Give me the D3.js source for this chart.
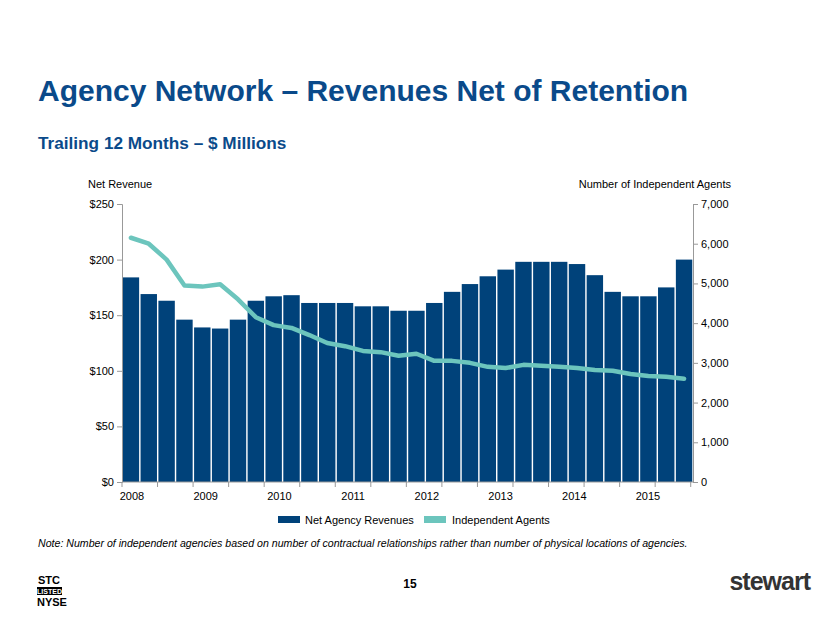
<!DOCTYPE html><html><head><meta charset="utf-8"><script src="https://cdn.jsdelivr.net/npm/d3@7"></script>
<style>body{margin:0;background:#fff;font-family:Arial,"Liberation Sans",sans-serif}</style></head><body><svg id="c" width="820" height="627"></svg>
<script>
const revenue=[184,169,163,146,139,138,146,163,167,168,161,161,161,158,158,154,154,161,171,178,185,191,198,198,198,196,186,171,167,167,175,200];
const agents=[6150,6000,5600,4950,4920,4980,4600,4150,3950,3880,3700,3500,3420,3300,3270,3180,3230,3050,3050,3000,2900,2870,2950,2930,2900,2870,2820,2800,2720,2670,2650,2600];
const years=["2008","2009","2010","2011","2012","2013","2014","2015"];
const leftTicks=[0,50,100,150,200,250];
const rightTicks=[0,1000,2000,3000,4000,5000,6000,7000];
const svg=d3.select("#c");
const L=122,R=693,T=204,B=482;
const x=d3.scaleBand().domain(d3.range(revenue.length)).range([L,R]).paddingInner(0.08).paddingOuter(0.04);
const yL=d3.scaleLinear().domain([0,250]).range([B,T]);
const yR=d3.scaleLinear().domain([0,7000]).range([B,T]);
const xy=d3.scaleLinear().domain([0,years.length-1]).range([132,648]);
svg.append("text").attr("x",38).attr("y",101).attr("fill","#0a4a8a").attr("font-size",30).attr("font-weight","bold").text("Agency Network – Revenues Net of Retention");
svg.append("text").attr("x",38).attr("y",149).attr("fill","#0a4a8a").attr("font-size",17.2).attr("font-weight","bold").text("Trailing 12 Months – $ Millions");
svg.append("text").attr("x",88).attr("y",188).attr("font-size",11).text("Net Revenue");
svg.append("text").attr("x",731).attr("y",188).attr("font-size",11).attr("text-anchor","end").text("Number of Independent Agents");
svg.selectAll("rect.b").data(revenue).join("rect").attr("x",(d,i)=>x(i)).attr("width",x.bandwidth()).attr("y",d=>yL(d)).attr("height",d=>B-yL(d)).attr("fill","#00427a");
const la=svg.append("g").attr("transform",`translate(${L},0)`).call(d3.axisLeft(yL).tickValues(leftTicks).tickSize(5).tickFormat(d=>"$"+d));
const ra=svg.append("g").attr("transform",`translate(${R},0)`).call(d3.axisRight(yR).tickValues(rightTicks).tickSize(5).tickFormat(d3.format(",")));
[la,ra].forEach(g=>{g.selectAll("path,line").attr("stroke","#999");g.selectAll("text").attr("font-size",11).attr("fill","#000").attr("font-family","Arial,'Liberation Sans',sans-serif");});
la.selectAll("text").attr("x",-8);ra.selectAll("text").attr("x",8);
const step=x.step();
const xa=svg.append("g").attr("transform",`translate(0,${B})`);
xa.append("line").attr("x1",L).attr("x2",R).attr("stroke","#999");
d3.range(0,revenue.length+1,2).forEach(i=>xa.append("line").attr("x1",L+i*step*0.996).attr("x2",L+i*step*0.996).attr("y2",5).attr("stroke","#999"));
years.forEach((y,k)=>xa.append("text").attr("x",xy(k)).attr("y",18).attr("font-size",11).attr("text-anchor","middle").text(y));
svg.append("path").datum(agents).attr("fill","none").attr("stroke","#6cc5bd").attr("stroke-width",4.5).attr("stroke-linejoin","round").attr("stroke-linecap","round")
 .attr("d",d3.line().x((d,i)=>x(i)+x.bandwidth()/2).y(d=>yR(d)));
const lg=svg.append("g").attr("font-size",11);
lg.append("rect").attr("x",278).attr("y",516).attr("width",22).attr("height",7).attr("fill","#00427a");
lg.append("text").attr("x",305).attr("y",524).text("Net Agency Revenues");
lg.append("rect").attr("x",424).attr("y",516).attr("width",22).attr("height",7).attr("fill","#6cc5bd");
lg.append("text").attr("x",452).attr("y",524).text("Independent Agents");
svg.append("text").attr("x",38).attr("y",547).attr("font-size",10.6).attr("font-style","italic").text("Note: Number of independent agencies based on number of contractual relationships rather than number of physical locations of agencies.");
svg.append("text").attr("x",410).attr("y",588).attr("font-size",12).attr("font-weight","bold").attr("text-anchor","middle").text("15");
const lo=svg.append("g").attr("font-weight","bold").attr("font-family","'Liberation Sans Narrow',Arial,sans-serif");
lo.append("text").attr("x",38).attr("y",584).attr("font-size",11).text("STC");
lo.append("rect").attr("x",37).attr("y",587).attr("width",25).attr("height",8).attr("fill","#000");
lo.append("text").attr("x",49.5).attr("y",594).attr("font-size",7).attr("fill","#fff").attr("text-anchor","middle").text("LISTED");
lo.append("text").attr("x",37).attr("y",606).attr("font-size",11).text("NYSE");
svg.append("text").attr("x",810).attr("y",590).attr("font-size",25).attr("font-weight","bold").attr("fill","#333").attr("text-anchor","end").attr("letter-spacing",-1).text("stewart");
</script></body></html>
